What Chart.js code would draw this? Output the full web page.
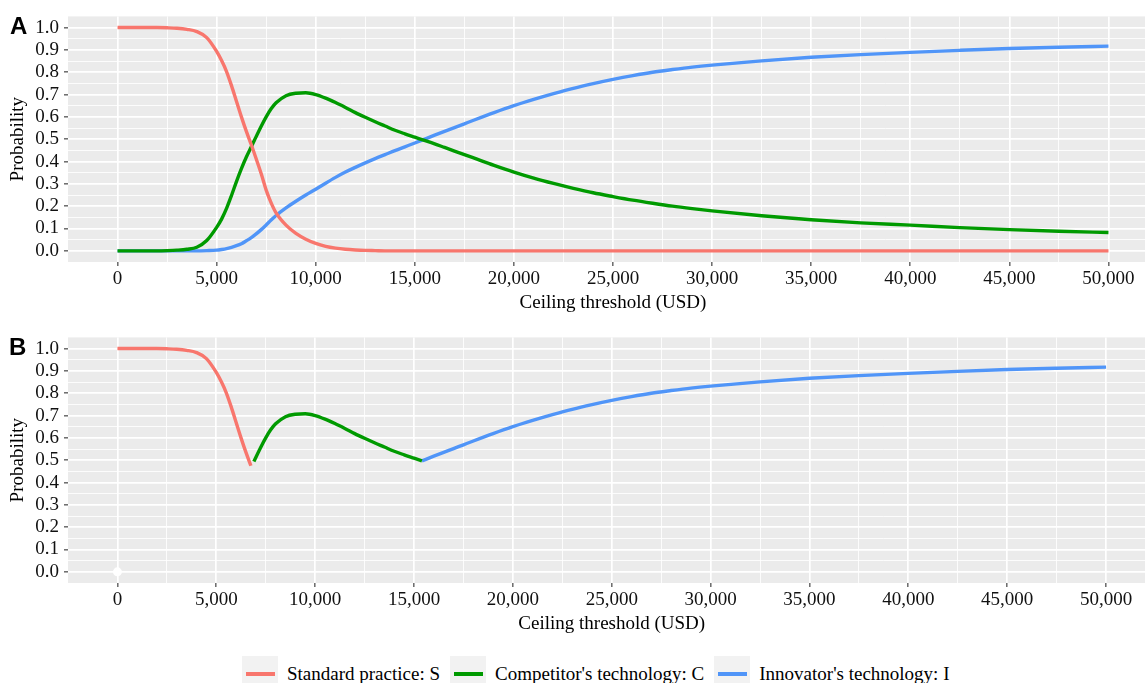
<!DOCTYPE html>
<html>
<head>
<meta charset="utf-8">
<title>Probability of cost-effectiveness by ceiling threshold</title>
<script src="https://cdn.jsdelivr.net/npm/chart.js@4.4.1/dist/chart.umd.min.js"></script>
<style>
  html, body { margin: 0; padding: 0; background: #fff; width: 1145px; height: 683px; overflow: hidden; }
  .panel { position: absolute; left: 0; width: 1160px; height: 320px; }
  #panelA { top: 0; }
  #panelB { top: 321px; }
  .tag { position: absolute; font: bold 24px "Liberation Sans", Arial, sans-serif; line-height: 24px; color: #000; }
  #legend { position: absolute; top: 656px; left: 242px; height: 36px; display: flex; align-items: center;
            font: 19px "Liberation Serif", "Times New Roman", serif; color: #000; white-space: nowrap; }
  .key { position: relative; width: 36px; height: 36px; background: #F2F2F2; flex: none; }
  .key i { position: absolute; left: 4px; top: 16px; width: 29px; height: 3.5px; }
  .lab { margin-left: 9px; margin-right: 10px; }
</style>
</head>
<body>
<canvas id="panelA" class="panel" width="1160" height="320"></canvas>
<canvas id="panelB" class="panel" width="1160" height="320"></canvas>
<div class="tag" style="left:10px;top:14px">A</div>
<div class="tag" style="left:9px;top:335px">B</div>
<div id="legend"></div>
<script>
// Ceiling threshold grid (USD)
const ceilingUSD = [0, 500, 1000, 1500, 2000, 2500, 3000, 3500, 4000, 4500,
  5000, 5250, 5500, 5750, 6000, 6250, 6500, 6750, 6900, 7250,
  7500, 7750, 8000, 8500, 9000, 9500, 10000, 10500, 11000, 11500,
  12000, 12500, 13000, 13500, 14000, 14500, 15000, 15400, 16000, 16500,
  17000, 17500, 18000, 19000, 20000, 21000, 22000, 23000, 24000, 25000,
  26000, 27000, 28000, 29000, 30000, 32500, 35000, 37500, 40000, 42500,
  45000, 47500, 50000];

// Probability that each option is the most cost-effective
const probStandard = [1, 1, 1, 1, 1, 0.999, 0.997, 0.992, 0.982, 0.955,
  0.893, 0.852, 0.803, 0.74, 0.67, 0.60, 0.535, 0.475, 0.437, 0.345,
  0.272, 0.215, 0.17, 0.115, 0.078, 0.052, 0.033, 0.02, 0.012, 0.007,
  0.004, 0.002, 0.001, 0, 0, 0, 0, 0, 0, 0,
  0, 0, 0, 0, 0, 0, 0, 0, 0, 0,
  0, 0, 0, 0, 0, 0, 0, 0, 0, 0,
  0, 0, 0];
const probCompetitor = [0, 0, 0, 0, 0, 0.001, 0.003, 0.007, 0.016, 0.046,
  0.105, 0.142, 0.19, 0.248, 0.31, 0.368, 0.42, 0.466, 0.494, 0.558,
  0.60, 0.636, 0.663, 0.695, 0.706, 0.708, 0.70, 0.684, 0.664, 0.642,
  0.619, 0.598, 0.578, 0.559, 0.54, 0.524, 0.509, 0.497, 0.479, 0.463,
  0.447, 0.431, 0.415, 0.383, 0.353, 0.326, 0.302, 0.28, 0.26, 0.243,
  0.227, 0.213, 0.20, 0.189, 0.179, 0.157, 0.139, 0.125, 0.115, 0.104,
  0.095, 0.088, 0.082];
const probInnovator = [0, 0, 0, 0, 0, 0, 0, 0, 0, 0.001,
  0.003, 0.006, 0.01, 0.016, 0.023, 0.032, 0.045, 0.059, 0.069, 0.095,
  0.116, 0.138, 0.158, 0.192, 0.222, 0.25, 0.276, 0.303, 0.329, 0.353,
  0.374, 0.394, 0.413, 0.431, 0.449, 0.466, 0.483, 0.497, 0.518, 0.535,
  0.552, 0.569, 0.586, 0.619, 0.65, 0.678, 0.704, 0.728, 0.749, 0.768,
  0.785, 0.80, 0.812, 0.823, 0.832, 0.851, 0.867, 0.879, 0.889, 0.898,
  0.906, 0.912, 0.917];

// Axis breaks
const xBreaks = [0, 5000, 10000, 15000, 20000, 25000, 30000, 35000, 40000, 45000, 50000];
const yBreaks = [0.0, 0.1, 0.2, 0.3, 0.4, 0.5, 0.6, 0.7, 0.8, 0.9, 1.0];

const seriesNames = ["Standard practice: S", "Competitor's technology: C", "Innovator's technology: I"];
const originMarker = [{ x: 0, y: 0 }];

const COLORS = ['#F8766D', '#009A00', '#5095F8'];
const SERIF = '"Liberation Serif", "Times New Roman", Times, serif';
const TEXT_SIZE = 19;

// major breaks plus the minor breaks halfway between them
function withMinor(breaks) {
  const out = [];
  breaks.forEach((b, i) => {
    out.push(b);
    if (i < breaks.length - 1) out.push((b + breaks[i + 1]) / 2);
  });
  return out;
}
const isBreak = (breaks, v) => breaks.some(b => Math.abs(b - v) < 1e-9);

const allSeries = [probStandard, probCompetitor, probInnovator];

function points(values) {
  return ceilingUSD.map((x, i) => ({ x: x, y: values[i] }));
}

// Panel B keeps only the option with the highest probability at each threshold
function frontierPoints(k) {
  return ceilingUSD.map((x, i) => {
    const best = Math.max(probStandard[i], probCompetitor[i], probInnovator[i]);
    return { x: x, y: allSeries[k][i] >= best ? allSeries[k][i] : null };
  });
}

const panelBackground = {
  id: 'panelBackground',
  beforeDraw(chart) {
    const { ctx, chartArea: a } = chart;
    ctx.save();
    ctx.fillStyle = '#EBEBEB';
    ctx.fillRect(a.left, a.top, a.right - a.left, a.bottom - a.top);
    ctx.restore();
  }
};

function axis(breaks, min, max, fmt, titleText, isX) {
  return {
    type: 'linear',
    min: min, max: max,
    afterBuildTicks(scale) { scale.ticks = withMinor(breaks).map(v => ({ value: v })); },
    afterFit(scale) { if (isX) scale.height = 58; else scale.width = 68; },
    border: { display: false },
    grid: {
      color: '#FFFFFF',
      lineWidth: ctx => isBreak(breaks, ctx.tick.value) ? 1.7 : 0.85,
      tickColor: ctx => isBreak(breaks, ctx.tick.value) ? '#333333' : 'rgba(0,0,0,0)',
      tickLength: 4,
      tickWidth: 1.1
    },
    ticks: {
      autoSkip: false,
      maxRotation: 0,
      padding: isX ? 2 : 5,
      color: '#111111',
      font: { family: SERIF, size: TEXT_SIZE },
      callback: v => isBreak(breaks, v) ? fmt(v) : ''
    },
    title: {
      display: true,
      text: titleText,
      color: '#000000',
      font: { family: SERIF, size: TEXT_SIZE },
      padding: isX ? { top: 0, bottom: 6 } : { top: 7, bottom: 0 }
    }
  };
}

function buildPanel(id, datasets) {
  return new Chart(document.getElementById(id), {
    type: 'line',
    data: { datasets: datasets },
    options: {
      responsive: false,
      animation: false,
      devicePixelRatio: 1,
      layout: { padding: { top: 14, right: 2, left: 0, bottom: 0 } },
      plugins: { legend: { display: false }, tooltip: { enabled: false } },
      elements: { point: { radius: 0 } },
      scales: {
        x: axis(xBreaks, -2500, 52500, v => v.toLocaleString('en-US'), 'Ceiling threshold (USD)', true),
        y: axis(yBreaks, -0.05, 1.05, v => v.toFixed(1), 'Probability', false)
      }
    },
    plugins: [panelBackground]
  });
}

function lineSet(k, data) {
  return {
    label: seriesNames[k],
    data: data,
    borderColor: COLORS[k],
    backgroundColor: COLORS[k],
    borderWidth: 3.4,
    borderCapStyle: 'butt',
    borderJoinStyle: 'round',
    cubicInterpolationMode: 'monotone',
    spanGaps: false,
    pointRadius: 0,
    fill: false
  };
}

buildPanel('panelA', allSeries.map((s, k) => lineSet(k, points(s))));

const panelBSets = allSeries.map((s, k) => lineSet(k, frontierPoints(k)));
panelBSets.unshift({
  label: 'origin',
  data: originMarker,
  showLine: false,
  pointRadius: 4.5,
  pointBackgroundColor: '#FFFFFF',
  pointBorderWidth: 0
});
buildPanel('panelB', panelBSets);

// Legend
const legend = document.getElementById('legend');
seriesNames.forEach((name, k) => {
  const key = document.createElement('span');
  key.className = 'key';
  const bar = document.createElement('i');
  bar.style.background = COLORS[k];
  key.appendChild(bar);
  const lab = document.createElement('span');
  lab.className = 'lab';
  lab.textContent = name;
  legend.appendChild(key);
  legend.appendChild(lab);
});
</script>
</body>
</html>
